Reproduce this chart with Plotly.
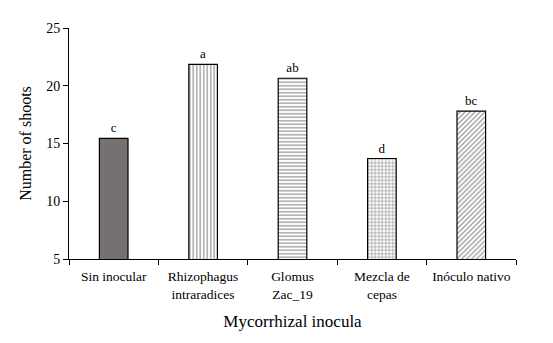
import plotly.graph_objects as go

categories = ["Sin inocular", "Rhizophagus<br>intraradices", "Glomus<br>Zac_19", "Mezcla de<br>cepas", "Inóculo nativo"]
values = [15.45, 21.85, 20.65, 13.7, 17.8]
letters = ["c", "a", "ab", "d", "bc"]
patterns = ["", "|", "-", "+", "/"]
fills = ["#757170", "white", "white", "white", "white"]

font_family = "Liberation Serif"

fig = go.Figure()
fig.add_trace(go.Bar(
    x=categories,
    y=values,
    width=0.32,
    text=letters,
    textposition="outside",
    textfont=dict(family=font_family, size=13, color="black"),
    cliponaxis=False,
    marker=dict(
        color=fills,
        line=dict(color="black", width=1.2),
        pattern=dict(shape=patterns, fgcolor="black", bgcolor="white", size=3.5, solidity=0.4, fillmode="overlay"),
    ),
))

fig.update_layout(
    width=553, height=343,
    margin=dict(l=69, r=37, t=28, b=84),
    plot_bgcolor="white", paper_bgcolor="white",
    showlegend=False,
    font=dict(family=font_family, color="black"),
)
fig.update_yaxes(
    range=[5, 25], dtick=5, showgrid=False, zeroline=False,
    showline=True, linecolor="black", linewidth=1,
    ticks="outside", ticklen=5, tickcolor="black",
    tickfont=dict(family=font_family, size=14, color="black"),
    title=dict(text="Number of shoots", font=dict(family=font_family, size=16, color="black"), standoff=10),
)
fig.update_xaxes(
    showgrid=False, showline=True, linecolor="black", linewidth=1,
    ticks="outside", ticklen=5, tickcolor="black", tickson="boundaries",
    ticklabelstandoff=5,
    tickfont=dict(family=font_family, size=13.5, color="black"),
    title=dict(text="Mycorrhizal inocula", font=dict(family=font_family, size=17, color="black"), standoff=14),
)

fig.write_html("out.html")
